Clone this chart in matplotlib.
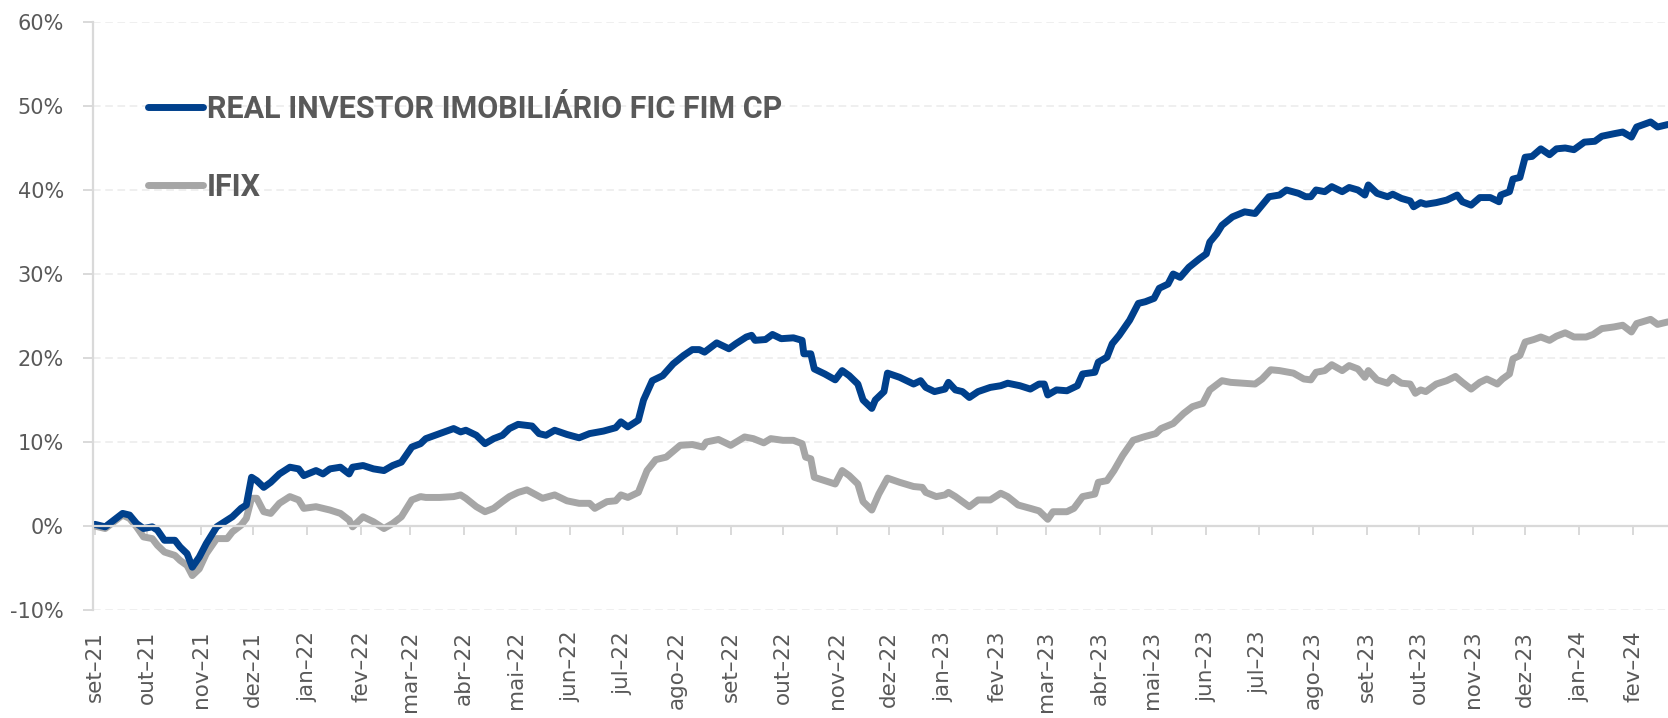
import matplotlib
matplotlib.use("Agg")
import matplotlib.pyplot as plt
import matplotlib.dates as mdates
from matplotlib.ticker import FuncFormatter, MultipleLocator
from matplotlib.font_manager import FontProperties
import pandas as pd

# cumulative return (%)
fund_dates = [
    "2021-09-01", "2021-09-07", "2021-09-12", "2021-09-17", "2021-09-21", "2021-09-25", "2021-09-29",
    "2021-10-04", "2021-10-07", "2021-10-11", "2021-10-17", "2021-10-20", "2021-10-24", "2021-10-27",
    "2021-10-31", "2021-11-04", "2021-11-10", "2021-11-16", "2021-11-19", "2021-11-24", "2021-11-27",
    "2021-11-30", "2021-12-03", "2021-12-07", "2021-12-11", "2021-12-16", "2021-12-22", "2021-12-27",
    "2021-12-30", "2022-01-06", "2022-01-10", "2022-01-14", "2022-01-20", "2022-01-25", "2022-01-27",
    "2022-02-02", "2022-02-08", "2022-02-14", "2022-02-19", "2022-02-24", "2022-03-02", "2022-03-07",
    "2022-03-10", "2022-03-18", "2022-03-26", "2022-03-30", "2022-04-02", "2022-04-08", "2022-04-13",
    "2022-04-18", "2022-04-23", "2022-04-27", "2022-05-02", "2022-05-10", "2022-05-14", "2022-05-18",
    "2022-05-23", "2022-05-30", "2022-06-06", "2022-06-12", "2022-06-20", "2022-06-27", "2022-06-30",
    "2022-07-04", "2022-07-10", "2022-07-13", "2022-07-18", "2022-07-24", "2022-07-30", "2022-08-05",
    "2022-08-10", "2022-08-14", "2022-08-17", "2022-08-24", "2022-08-31", "2022-09-04", "2022-09-10",
    "2022-09-13", "2022-09-15", "2022-09-21", "2022-09-25", "2022-09-30", "2022-10-07", "2022-10-12",
    "2022-10-13", "2022-10-17", "2022-10-19", "2022-10-25", "2022-10-31", "2022-11-04", "2022-11-08",
    "2022-11-13", "2022-11-16", "2022-11-21", "2022-11-23", "2022-11-28", "2022-11-30", "2022-12-07",
    "2022-12-15", "2022-12-19", "2022-12-22", "2022-12-27", "2023-01-02", "2023-01-04", "2023-01-08",
    "2023-01-12", "2023-01-16", "2023-01-21", "2023-01-28", "2023-02-03", "2023-02-07", "2023-02-14",
    "2023-02-20", "2023-02-25", "2023-02-28", "2023-03-02", "2023-03-07", "2023-03-13", "2023-03-19",
    "2023-03-22", "2023-03-29", "2023-03-31", "2023-04-05", "2023-04-08", "2023-04-12", "2023-04-18",
    "2023-04-23", "2023-04-27", "2023-05-02", "2023-05-05", "2023-05-10", "2023-05-13", "2023-05-17",
    "2023-05-22", "2023-05-28", "2023-06-01", "2023-06-03", "2023-06-07", "2023-06-10", "2023-06-16",
    "2023-06-23", "2023-06-29", "2023-07-03", "2023-07-07", "2023-07-13", "2023-07-17", "2023-07-24",
    "2023-07-28", "2023-07-31", "2023-08-03", "2023-08-08", "2023-08-12", "2023-08-18", "2023-08-22",
    "2023-08-27", "2023-08-31", "2023-09-02", "2023-09-07", "2023-09-13", "2023-09-16", "2023-09-21",
    "2023-09-26", "2023-09-28", "2023-10-02", "2023-10-05", "2023-10-11", "2023-10-17", "2023-10-23",
    "2023-10-26", "2023-10-31", "2023-11-05", "2023-11-11", "2023-11-16", "2023-11-17", "2023-11-22",
    "2023-11-24", "2023-11-28", "2023-12-01", "2023-12-05", "2023-12-10", "2023-12-15", "2023-12-19",
    "2023-12-24", "2023-12-29", "2024-01-04", "2024-01-10", "2024-01-14", "2024-01-21", "2024-01-26",
    "2024-01-31", "2024-02-03", "2024-02-11", "2024-02-15", "2024-02-21",
]
fund_values = [
    0.2, -0.1, 0.7, 1.5, 1.3, 0.3, -0.3,
    -0.1, -0.5, -1.7, -1.7, -2.5, -3.3, -4.9,
    -3.7, -2.1, -0.1, 0.7, 1.1, 2.1, 2.5,
    5.8, 5.4, 4.6, 5.2, 6.2, 7.0, 6.8,
    6.0, 6.6, 6.2, 6.8, 7.0, 6.2, 7.0,
    7.2, 6.8, 6.6, 7.2, 7.6, 9.4, 9.8,
    10.4, 11.0, 11.6, 11.2, 11.4, 10.8, 9.8,
    10.4, 10.8, 11.6, 12.1, 11.9, 11.0, 10.8,
    11.4, 10.9, 10.5, 11.0, 11.3, 11.7, 12.4,
    11.8, 12.6, 15.0, 17.3, 17.9, 19.3, 20.3,
    21.0, 21.0, 20.7, 21.8, 21.1, 21.7, 22.5,
    22.7, 22.1, 22.2, 22.8, 22.3, 22.4, 22.1,
    20.5, 20.5, 18.7, 18.1, 17.4, 18.5, 17.9,
    16.9, 15.0, 14.0, 15.0, 16.0, 18.2, 17.7,
    16.9, 17.3, 16.5, 16.0, 16.3, 17.1, 16.2,
    16.0, 15.3, 16.0, 16.5, 16.7, 17.0, 16.7,
    16.3, 16.9, 16.9, 15.6, 16.2, 16.1, 16.7,
    18.1, 18.3, 19.5, 20.1, 21.7, 22.7, 24.5,
    26.5, 26.7, 27.1, 28.3, 28.8, 30.0, 29.6,
    30.8, 31.8, 32.4, 33.8, 34.8, 35.8, 36.8,
    37.4, 37.2, 38.2, 39.2, 39.4, 40.0, 39.6,
    39.2, 39.2, 40.0, 39.8, 40.4, 39.8, 40.3,
    40.0, 39.4, 40.6, 39.6, 39.2, 39.5, 39.0,
    38.7, 38.0, 38.5, 38.3, 38.5, 38.8, 39.4,
    38.6, 38.2, 39.1, 39.1, 38.6, 39.4, 39.8,
    41.3, 41.5, 43.9, 44.0, 44.9, 44.2, 44.9,
    45.0, 44.8, 45.7, 45.8, 46.4, 46.7, 46.9,
    46.3, 47.5, 48.1, 47.5, 47.8,
]

ifix_dates = [
    "2021-09-01", "2021-09-07", "2021-09-12", "2021-09-17", "2021-09-21", "2021-09-25", "2021-09-29",
    "2021-10-04", "2021-10-07", "2021-10-11", "2021-10-17", "2021-10-20", "2021-10-24", "2021-10-27",
    "2021-10-31", "2021-11-04", "2021-11-10", "2021-11-16", "2021-11-19", "2021-11-24", "2021-11-27",
    "2021-11-30", "2021-12-03", "2021-12-07", "2021-12-11", "2021-12-16", "2021-12-22", "2021-12-27",
    "2021-12-30", "2022-01-06", "2022-01-10", "2022-01-14", "2022-01-20", "2022-01-25", "2022-01-27",
    "2022-02-02", "2022-02-08", "2022-02-14", "2022-02-19", "2022-02-24", "2022-03-02", "2022-03-07",
    "2022-03-10", "2022-03-18", "2022-03-26", "2022-03-30", "2022-04-02", "2022-04-08", "2022-04-13",
    "2022-04-18", "2022-04-23", "2022-04-27", "2022-05-02", "2022-05-07", "2022-05-16", "2022-05-23",
    "2022-05-30", "2022-06-06", "2022-06-12", "2022-06-15", "2022-06-22", "2022-06-27", "2022-06-30",
    "2022-07-04", "2022-07-10", "2022-07-15", "2022-07-20", "2022-07-26", "2022-08-03", "2022-08-10",
    "2022-08-16", "2022-08-18", "2022-08-25", "2022-09-01", "2022-09-09", "2022-09-14", "2022-09-20",
    "2022-09-24", "2022-10-01", "2022-10-07", "2022-10-12", "2022-10-14", "2022-10-17", "2022-10-19",
    "2022-10-25", "2022-10-31", "2022-11-04", "2022-11-08", "2022-11-13", "2022-11-16", "2022-11-21",
    "2022-11-25", "2022-11-30", "2022-12-07", "2022-12-15", "2022-12-20", "2022-12-22", "2022-12-28",
    "2023-01-02", "2023-01-04", "2023-01-08", "2023-01-12", "2023-01-16", "2023-01-21", "2023-01-28",
    "2023-02-03", "2023-02-07", "2023-02-13", "2023-02-20", "2023-02-25", "2023-03-02", "2023-03-05",
    "2023-03-13", "2023-03-17", "2023-03-22", "2023-03-29", "2023-03-31", "2023-04-05", "2023-04-09",
    "2023-04-14", "2023-04-20", "2023-04-26", "2023-05-03", "2023-05-06", "2023-05-13", "2023-05-19",
    "2023-05-24", "2023-05-30", "2023-06-03", "2023-06-10", "2023-06-15", "2023-06-22", "2023-06-29",
    "2023-07-03", "2023-07-08", "2023-07-13", "2023-07-21", "2023-07-27", "2023-07-31", "2023-08-03",
    "2023-08-08", "2023-08-12", "2023-08-18", "2023-08-22", "2023-08-27", "2023-08-31", "2023-09-02",
    "2023-09-07", "2023-09-13", "2023-09-16", "2023-09-21", "2023-09-26", "2023-09-29", "2023-10-02",
    "2023-10-05", "2023-10-11", "2023-10-17", "2023-10-22", "2023-10-26", "2023-10-31", "2023-11-05",
    "2023-11-09", "2023-11-15", "2023-11-18", "2023-11-22", "2023-11-24", "2023-11-28", "2023-12-01",
    "2023-12-06", "2023-12-10", "2023-12-15", "2023-12-19", "2023-12-24", "2023-12-29", "2024-01-05",
    "2024-01-09", "2024-01-14", "2024-01-21", "2024-01-26", "2024-01-31", "2024-02-03", "2024-02-11",
    "2024-02-15", "2024-02-21",
]
ifix_values = [
    0.0, -0.3, 0.5, 1.3, 0.9, -0.1, -1.3,
    -1.5, -2.3, -3.1, -3.5, -4.1, -4.7, -5.9,
    -5.1, -3.3, -1.5, -1.5, -0.7, 0.1, 0.9,
    3.3, 3.3, 1.7, 1.5, 2.7, 3.5, 3.1,
    2.1, 2.3, 2.1, 1.9, 1.5, 0.7, -0.1,
    1.1, 0.5, -0.3, 0.3, 1.1, 3.1, 3.5,
    3.4, 3.4, 3.5, 3.7, 3.3, 2.3, 1.7,
    2.1, 2.9, 3.5, 4.0, 4.3, 3.3, 3.7,
    3.0, 2.7, 2.7, 2.1, 2.9, 3.0, 3.7,
    3.4, 4.0, 6.6, 7.9, 8.2, 9.6, 9.7,
    9.4, 10.0, 10.3, 9.6, 10.6, 10.4, 9.9,
    10.4, 10.2, 10.2, 9.8, 8.2, 8.0, 5.8,
    5.4, 5.0, 6.6, 6.0, 5.0, 2.9, 1.9,
    3.8, 5.7, 5.2, 4.7, 4.6, 4.0, 3.5,
    3.7, 4.0, 3.5, 2.9, 2.3, 3.1, 3.1,
    3.9, 3.5, 2.5, 2.1, 1.8, 0.8, 1.7,
    1.7, 2.1, 3.5, 3.8, 5.2, 5.4, 6.6,
    8.4, 10.2, 10.6, 11.0, 11.6, 12.2, 13.4,
    14.2, 14.6, 16.2, 17.3, 17.1, 17.0, 16.9,
    17.5, 18.6, 18.5, 18.2, 17.5, 17.4, 18.3,
    18.5, 19.2, 18.5, 19.1, 18.7, 17.7, 18.5,
    17.4, 17.0, 17.7, 17.0, 16.9, 15.8, 16.2,
    16.0, 16.9, 17.3, 17.8, 17.1, 16.3, 17.1,
    17.5, 16.9, 17.5, 18.1, 19.9, 20.3, 21.9,
    22.2, 22.5, 22.1, 22.6, 23.0, 22.5, 22.5,
    22.8, 23.5, 23.7, 23.9, 23.1, 24.1, 24.6,
    24.0, 24.3,
]

series_names = ["REAL INVESTOR IMOBILIÁRIO FIC FIM CP", "IFIX"]
pt_months = ["jan", "fev", "mar", "abr", "mai", "jun", "jul", "ago", "set", "out", "nov", "dez"]

BLUE = "#00408C"
GREY = "#A6A6A6"
TEXT = "#595959"
AXIS = "#D9D9D9"

fig = plt.figure(figsize=(16.68, 7.18), dpi=100)
ax = fig.add_axes([93 / 1668, 1 - 610 / 718, 1 - 93 / 1668, (610 - 22) / 718])

lw = 5
ifix_line, = ax.plot(pd.to_datetime(ifix_dates), ifix_values, color=GREY, lw=lw,
                     solid_joinstyle="round", solid_capstyle="round")
fund_line, = ax.plot(pd.to_datetime(fund_dates), fund_values, color=BLUE, lw=lw,
                     solid_joinstyle="round", solid_capstyle="round")

ax.set_xlim(pd.Timestamp("2021-08-31"), pd.Timestamp("2024-02-21"))
ax.set_ylim(-10, 60)

# y axis
ax.yaxis.set_major_locator(MultipleLocator(10))
ax.yaxis.set_major_formatter(FuncFormatter(lambda v, p: f"{v:.0f}%"))
ax.grid(axis="y", color="#EBEBEB", lw=1.1, ls=(0, (5, 3)))
ax.set_axisbelow(True)


def month_label(v, pos):
    d = mdates.num2date(v)
    return f"{pt_months[d.month - 1]}\u2013{d.strftime('%y')}"


# x axis sits on the 0% line, labels hang below the plot
ax.xaxis.set_major_locator(mdates.MonthLocator())
ax.xaxis.set_major_formatter(FuncFormatter(month_label))

for s in ["top", "right"]:
    ax.spines[s].set_visible(False)
ax.spines["bottom"].set_position(("data", 0))
for s in ["left", "bottom"]:
    ax.spines[s].set_color(AXIS)
    ax.spines[s].set_linewidth(1.6)

ax.tick_params(axis="y", length=7, width=1.4, color=AXIS, pad=14, labelsize=15, labelcolor=TEXT)
ax.tick_params(axis="x", length=6.5, width=1.4, color=AXIS, pad=69, labelsize=15.5,
               labelcolor=TEXT, labelrotation=90)

leg = ax.legend([fund_line, ifix_line], series_names, loc="upper left",
                bbox_to_anchor=(0.0349, 0.878), frameon=False,
                prop=FontProperties(family="Roboto", weight="bold", size=22),
                labelcolor=TEXT, handlelength=1.8, handletextpad=0.12,
                labelspacing=1.57, borderpad=0, borderaxespad=0)

fig.savefig("out.png", dpi=100)
